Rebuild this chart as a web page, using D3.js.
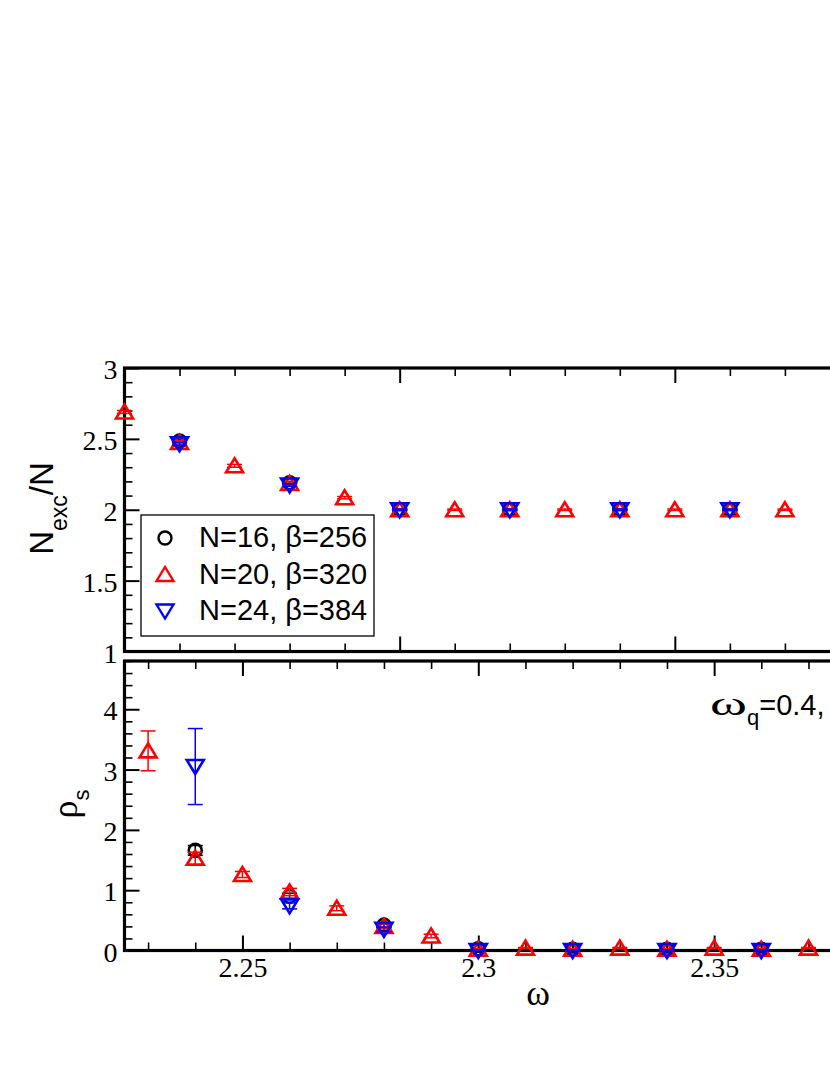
<!DOCTYPE html>
<html>
<head>
<meta charset="utf-8">
<script src="https://cdn.jsdelivr.net/npm/d3@7"></script>
<style>
  html, body { margin: 0; padding: 0; background: #fff; }
  svg { display: block; }
</style>
</head>
<body>
<svg id="chart" width="830" height="1075"></svg>
<script>
// ---------------- DATA ----------------
// Top panel: N_exc / N
const topCircX = [2.24, 2.26, 2.28, 2.30, 2.32, 2.34];
const topCircY = [2.485, 2.19, 2.0, 2.0, 2.0, 2.0];
const topCircErr = [0.01, 0.01, 0.005, 0.005, 0.005, 0.005];

const topTriX = [2.23, 2.24, 2.25, 2.26, 2.27, 2.28, 2.29, 2.30, 2.31, 2.32, 2.33, 2.34, 2.35];
const topTriY = [2.69, 2.475, 2.31, 2.185, 2.085, 2.0, 2.0, 2.0, 2.0, 2.0, 2.0, 2.0, 2.0];
const topTriErr = [0.01, 0.012, 0.01, 0.012, 0.008, 0.005, 0.005, 0.005, 0.005, 0.005, 0.005, 0.005, 0.005];

const topInvX = [2.24, 2.26, 2.28, 2.30, 2.32, 2.34];
const topInvY = [2.465, 2.175, 2.0, 2.0, 2.0, 2.0];
const topInvErr = [0.01, 0.01, 0.005, 0.005, 0.005, 0.005];

// Bottom panel: rho_s
const botCircX = [2.24, 2.26, 2.28, 2.30, 2.32, 2.34, 2.36];
const botCircY = [1.66, 0.90, 0.42, 0.03, 0.02, 0.02, 0.02];
const botCircErr = [0.08, 0.05, 0.04, 0.06, 0.06, 0.06, 0.06];

const botTriX = [2.23, 2.24, 2.25, 2.26, 2.27, 2.28, 2.29, 2.30, 2.31, 2.32, 2.33, 2.34, 2.35, 2.36, 2.37];
const botTriY = [3.31, 1.53, 1.26, 0.97, 0.70, 0.40, 0.24, 0.02, 0.04, 0.02, 0.04, 0.02, 0.04, 0.02, 0.04];
const botTriErr = [0.33, 0.10, 0.05, 0.06, 0.04, 0.04, 0.03, 0.01, 0.01, 0.01, 0.01, 0.01, 0.01, 0.01, 0.01];

const botInvX = [2.24, 2.26, 2.28, 2.30, 2.32, 2.34, 2.36];
const botInvY = [3.05, 0.74, 0.35, 0.0, 0.0, 0.0, 0.0];
const botInvErr = [0.63, 0.05, 0.04, 0.01, 0.01, 0.01, 0.01];

// Legend labels
const legendLabels = ["N=16, \u03B2=256", "N=20, \u03B2=320", "N=24, \u03B2=384"];
const seriesColors = ["#000000", "#ff0000", "#0000ff"];
const seriesShapes = ["circle", "tri", "inv"];

// Tick values
const topXMajor = [2.23, 2.28, 2.33, 2.38];
const topYMajor = [1, 1.5, 2, 2.5, 3];
const topYLabels = ["1", "1.5", "2", "2.5", "3"];
const botXMajor = [2.25, 2.3, 2.35];
const botXLabels = ["2.25", "2.3", "2.35"];
const botYMajor = [0, 1, 2, 3, 4];
const botYLabels = ["0", "1", "2", "3", "4"];

// ---------------- LAYOUT ----------------
const svg = d3.select("#chart");
const L = 124.5, R = 950;
const topT = 368, topB = 651.5;
const botT = 661, botB = 950.5;

const xTop = d3.scaleLinear().domain([2.23, 2.38]).range([L, R]);
const yTop = d3.scaleLinear().domain([1, 3]).range([topB, topT]);
const xBot = d3.scaleLinear().domain([2.225, 2.4]).range([L, R]);
const yBot = d3.scaleLinear().domain([0, 4.8]).range([botB, botT]);

const serif = "'Liberation Serif', 'Times New Roman', serif";
const sans = "'Liberation Sans', Arial, Helvetica, sans-serif";

function rnd(v) { return Math.round(v * 1000) / 1000; }

function drawAxes(x, y, xMaj, xMin, yMaj, yMin, xLab, yLab) {
  const g = svg.append("g");
  const T = y.range()[1], B = y.range()[0];
  const Lx = x.range()[0], Rx = x.range()[1];
  const mk = (gen, tr, vals, size, labels) => {
    const a = gen.tickValues(vals).tickSize(-size).tickPadding(7)
      .tickFormat(labels ? ((d, i) => labels[i]) : () => "");
    const gg = g.append("g").attr("transform", tr).call(a);
    gg.select(".domain").remove();
    gg.selectAll(".tick line").attr("stroke", "#000").attr("stroke-width", size > 10 ? 2 : 1.6);
    gg.selectAll(".tick text").attr("font-family", serif).attr("font-size", 28).attr("fill", "#000");
    return gg;
  };
  // bottom
  mk(d3.axisBottom(x), `translate(0,${B})`, xMin, 8, null);
  mk(d3.axisBottom(x), `translate(0,${B})`, xMaj, 15, xLab);
  // top
  mk(d3.axisTop(x), `translate(0,${T})`, xMin, 8, null);
  mk(d3.axisTop(x), `translate(0,${T})`, xMaj, 15, null);
  // left
  mk(d3.axisLeft(y), `translate(${Lx},0)`, yMin, 8, null);
  const gl = mk(d3.axisLeft(y), `translate(${Lx},0)`, yMaj, 15, yLab);
  gl.selectAll(".tick text").attr("dy", "0.38em");
  // right
  mk(d3.axisRight(y), `translate(${Rx},0)`, yMin, 8, null);
  mk(d3.axisRight(y), `translate(${Rx},0)`, yMaj, 15, null);
  // frame
  g.append("rect").attr("x", Lx).attr("y", T).attr("width", Rx - Lx).attr("height", B - T)
    .attr("fill", "none").attr("stroke", "#000").attr("stroke-width", 3.2);
}

const topXMinor = d3.range(2.23, 2.3851, 0.01).map(rnd).filter(v => !topXMajor.includes(v));
const topYMinor = d3.range(1, 3.001, 0.1).map(rnd).filter(v => !topYMajor.includes(v));
const botXMinor = d3.range(2.23, 2.4001, 0.01).map(rnd).filter(v => !botXMajor.includes(v));
const botYMinor = d3.range(0, 4.801, 0.2).map(rnd).filter(v => !botYMajor.includes(v));

drawAxes(xTop, yTop, topXMajor, topXMinor, topYMajor, topYMinor, null, topYLabels);
drawAxes(xBot, yBot, botXMajor, botXMinor, botYMajor, botYMinor, botXLabels, botYLabels);

// ---------------- MARKERS ----------------
function shapePath(shape, cx, cy) {
  const hw = 8.5;
  if (shape === "tri") {
    return `M${cx},${cy - 7.5}L${cx - hw},${cy + 6.5}L${cx + hw},${cy + 6.5}Z`;
  }
  return `M${cx},${cy + 7.5}L${cx - hw},${cy - 6.5}L${cx + hw},${cy - 6.5}Z`;
}

function drawSeries(x, y, xs, ys, errs, color, shape) {
  const g = svg.append("g");
  const pts = xs.map((d, i) => ({ x: d, y: ys[i], e: errs[i] }));
  // error bars
  const eb = g.selectAll("g.eb").data(pts).enter().append("g")
    .attr("stroke", color).attr("stroke-width", 1.5).attr("fill", "none");
  eb.append("line")
    .attr("x1", d => x(d.x)).attr("x2", d => x(d.x))
    .attr("y1", d => y(d.y - d.e)).attr("y2", d => y(d.y + d.e));
  eb.append("line")
    .attr("x1", d => x(d.x) - 7.5).attr("x2", d => x(d.x) + 7.5)
    .attr("y1", d => y(d.y + d.e)).attr("y2", d => y(d.y + d.e));
  eb.append("line")
    .attr("x1", d => x(d.x) - 7.5).attr("x2", d => x(d.x) + 7.5)
    .attr("y1", d => y(d.y - d.e)).attr("y2", d => y(d.y - d.e));
  // markers
  if (shape === "circle") {
    g.selectAll("circle").data(pts).enter().append("circle")
      .attr("cx", d => x(d.x)).attr("cy", d => y(d.y)).attr("r", 6.5)
      .attr("fill", "none").attr("stroke", color).attr("stroke-width", 2.6);
  } else {
    g.selectAll("path.m").data(pts).enter().append("path")
      .attr("d", d => shapePath(shape, x(d.x), y(d.y)))
      .attr("fill", "none").attr("stroke", color).attr("stroke-width", 2.6)
      .attr("stroke-linejoin", "miter");
  }
}

drawSeries(xTop, yTop, topCircX, topCircY, topCircErr, seriesColors[0], "circle");
drawSeries(xTop, yTop, topTriX, topTriY, topTriErr, seriesColors[1], "tri");
drawSeries(xTop, yTop, topInvX, topInvY, topInvErr, seriesColors[2], "inv");

drawSeries(xBot, yBot, botCircX, botCircY, botCircErr, seriesColors[0], "circle");
drawSeries(xBot, yBot, botTriX, botTriY, botTriErr, seriesColors[1], "tri");
drawSeries(xBot, yBot, botInvX, botInvY, botInvErr, seriesColors[2], "inv");

// ---------------- LEGEND ----------------
const lg = svg.append("g");
lg.append("rect").attr("x", 141).attr("y", 515).attr("width", 233).attr("height", 121)
  .attr("fill", "#fff").attr("stroke", "#000").attr("stroke-width", 1.3);
legendLabels.forEach((lab, i) => {
  const by = 547 + i * 36.5;
  const cy = by - 9;
  if (seriesShapes[i] === "circle") {
    lg.append("circle").attr("cx", 165).attr("cy", cy).attr("r", 6.5)
      .attr("fill", "none").attr("stroke", seriesColors[i]).attr("stroke-width", 2.4);
  } else {
    lg.append("path").attr("d", shapePath(seriesShapes[i], 165, cy))
      .attr("fill", "none").attr("stroke", seriesColors[i]).attr("stroke-width", 2.4);
  }
  lg.append("text").attr("x", 199).attr("y", by)
    .attr("font-family", sans).attr("font-size", 29).attr("fill", "#000")
    .text(lab);
});

// ---------------- LABELS ----------------
// y label top
const yl1 = svg.append("text")
  .attr("transform", "translate(53,508.5) rotate(-90)")
  .attr("text-anchor", "middle").attr("font-family", sans).attr("font-size", 33).attr("fill", "#000");
yl1.append("tspan").text("N");
yl1.append("tspan").attr("font-size", 23).attr("dy", 14).text("exc");
yl1.append("tspan").attr("dy", -14).text("/N");

// y label bottom
const yl2 = svg.append("text")
  .attr("transform", "translate(77,804) rotate(-90)")
  .attr("text-anchor", "middle").attr("fill", "#000");
yl2.append("tspan").attr("font-family", serif).attr("font-size", 36).text("\u03C1");
yl2.append("tspan").attr("font-family", sans).attr("font-size", 22).attr("dy", 12).text("s");

// x label
svg.append("text").attr("x", 538).attr("y", 1005).attr("text-anchor", "middle")
  .attr("font-family", serif).attr("font-size", 36).attr("fill", "#000").text("\u03C9");

// annotation
const an = svg.append("text").attr("x", 710).attr("y", 715)
  .attr("font-family", sans).attr("font-size", 29).attr("fill", "#000");
an.append("tspan").attr("font-family", serif).attr("font-size", 34)
  .attr("textLength", 37).attr("lengthAdjust", "spacingAndGlyphs").text("\u03C9");
an.append("tspan").attr("font-size", 22).attr("dy", 10).text("q");
an.append("tspan").attr("dy", -10).text("=0.4,");
</script>
</body>
</html>
